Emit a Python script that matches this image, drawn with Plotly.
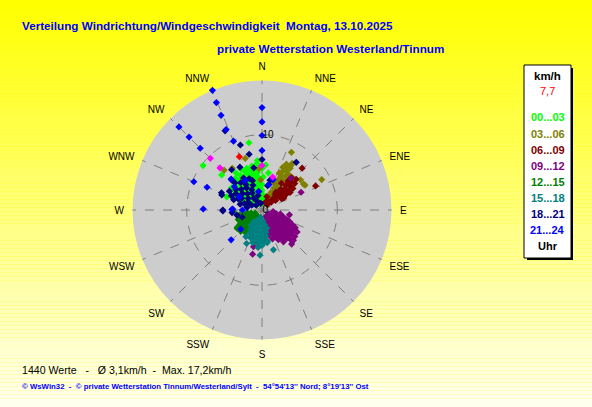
import plotly.graph_objects as go

W, H = 592, 407

# compass ticks
dir_ticks = [0, 22.5, 45, 67.5, 90, 112.5, 135, 157.5, 180, 202.5, 225, 247.5, 270, 292.5, 315, 337.5]
dir_labels = ["N", "NNE", "NE", "ENE", "E", "ESE", "SE", "SSE",
              "S", "SSW", "SW", "WSW", "W", "WNW", "NW", "NNW"]
speed_max = 17.2
speed_ticks = [0, 10]

hour_labels = ["00...03", "03...06", "06...09", "09...12", "12...15", "15...18", "18...21", "21...24"]
hour_colors = ["#00ff00", "#808000", "#800000", "#800080", "#008000", "#008080", "#000080", "#0000ff"]

# (direction deg, speed km/h)
h00_03 = [(325, 6.0), (333, 6.1), (340, 5.9), (347, 6.0), (354, 6.2),
          (320, 5.5), (328, 5.4), (336, 5.6), (344, 5.5), (352, 5.4), (0, 5.5),
          (306, 5.0), (315, 5.1), (322, 4.9), (330, 5.0), (338, 5.1), (346, 4.9), (353, 5.0),
          (305, 4.5), (312, 4.4), (320, 4.6), (328, 4.5), (336, 4.4), (344, 4.6), (352, 4.5), (2, 4.4),
          (300, 4.0), (308, 4.1), (316, 3.9), (324, 4.0), (332, 4.1), (340, 3.9), (348, 4.0), (356, 4.1),
          (298, 3.5), (306, 3.4), (315, 3.6), (324, 3.5), (333, 3.4), (342, 3.6), (351, 3.5), (0, 3.4),
          (295, 3.0), (305, 3.1), (315, 2.9), (325, 3.0), (335, 3.1), (345, 2.9), (355, 3.0),
          (300, 2.5), (312, 2.4), (324, 2.6), (336, 2.5), (348, 2.4), (0, 2.6),
          (290, 2.0), (305, 2.1), (320, 1.9), (335, 2.0), (350, 2.1), (5, 2.0),
          (300, 1.5), (320, 1.4), (340, 1.6), (0, 1.5), (310, 1.0), (340, 0.9), (10, 1.0),
          (349, 9.1), (354.5, 6.6), (307, 9.8), (311, 7.1), (290.5, 5.0), (298, 4.2), (4.7, 6.0), (9.8, 5.0)]
h03_06 = [(28, 1.0), (34, 1.5), (26, 1.8), (31, 2.1), (38, 2.4), (27, 2.6), (33, 2.9), (40, 3.1),
          (29, 3.3), (35, 3.6), (26, 3.9), (31, 4.1), (37, 4.3), (28, 4.6), (33, 4.8), (39, 5.0),
          (30, 5.2), (25, 5.4), (35, 5.5), (28, 5.8), (32, 6.1), (37, 5.9), (26, 6.3), (30, 6.5),
          (34, 6.7), (28, 6.9), (33, 7.1), (27, 8.6), (33, 7.4), (63, 8.9), (58, 6.5), (52, 6.5),
          (60, 6.6), (342, 7.2), (316.5, 7.3), (324.5, 6.8), (357.5, 4.0), (45, 3.0), (42, 5.9),
          (22, 4.0), (40, 2.0), (47, 4.0), (356, 5.5)]
h06_09 = [(20, 1.9), (25, 1.2), (45, 1.0), (40, 1.4), (50, 1.6), (44, 2.0), (55, 2.2), (47, 2.5),
          (40, 2.7), (52, 2.9), (60, 3.0), (45, 3.2), (50, 3.5), (42, 3.7), (57, 3.8), (47, 4.1),
          (53, 4.3), (44, 4.6), (58, 4.4), (49, 4.9), (42, 5.2), (46, 5.4), (43, 5.8), (51, 5.6),
          (48, 6.1), (61, 3.3), (38, 3.0), (43.8, 7.7), (65.8, 7.8), (36, 4.4), (55, 5.0)]
h09_12 = [(120, 1.0), (150, 1.0), (98, 1.5), (110, 1.5), (135, 1.5), (160, 1.5),
          (105, 2.0), (120, 2.0), (135, 2.0), (150, 2.0), (165, 2.0),
          (102, 2.5), (114, 2.5), (126, 2.5), (138, 2.5), (150, 2.5), (162, 2.5), (172, 2.6),
          (108, 3.0), (118, 3.0), (128, 3.0), (138, 3.0), (148, 3.0), (158, 3.0), (168, 3.0),
          (100, 3.7), (111, 3.6), (120, 3.5), (129, 3.5), (137, 3.5), (146, 3.5), (155, 3.5), (164, 3.5),
          (113, 4.0), (121, 4.0), (129, 4.0), (137, 4.0), (145, 4.0), (153, 4.0), (160, 4.1),
          (116, 4.5), (123, 4.5), (130, 4.5), (137, 4.5), (144, 4.5), (151, 4.5),
          (118, 5.0), (125, 5.0), (132, 5.0), (139, 5.0), (146, 5.1),
          (122, 5.5), (129, 5.6), (136, 5.4), (134, 5.8), (139, 6.0),
          (65.6, 5.7), (42, 5.7), (192, 6.0), (193, 5.0), (201, 3.8), (113, 2.85), (131, 4.4)]
h12_15 = [(215, 1.0), (245, 1.0), (205, 1.5), (230, 1.5), (255, 1.5),
          (200, 2.0), (215, 2.0), (230, 2.0), (245, 2.0), (260, 2.0),
          (205, 2.5), (218, 2.5), (231, 2.5), (244, 2.5), (257, 2.5),
          (210, 3.0), (222, 3.0), (234, 3.0), (246, 3.0), (258, 3.0),
          (215, 3.5), (226, 3.5), (237, 3.5), (248, 3.4), (225, 4.0), (235, 4.0),
          (233.4, 4.1), (268, 3.8), (218, 3.7), (252, 2.2), (240, 1.3)]
h15_18 = [(190, 1.0), (175, 1.5), (205, 1.5), (170, 2.0), (185, 2.0), (200, 2.0), (215, 2.0),
          (168, 2.5), (180, 2.5), (192, 2.5), (204, 2.5), (216, 2.5),
          (170, 3.0), (180, 3.0), (190, 3.0), (200, 3.0), (210, 3.0),
          (172, 3.5), (181, 3.5), (190, 3.5), (199, 3.5), (208, 3.5),
          (175, 4.0), (184, 4.0), (193, 4.0), (202, 4.0), (180, 4.5), (188, 4.5), (196, 4.5),
          (204.7, 4.9), (211, 4.15), (182.5, 6.0), (164, 5.5), (171, 4.4), (170, 4.2),
          (165.6, 2.5), (180, 4.7), (186, 5.0), (196, 1.8)]
h18_21 = [(300, 5.0), (315, 5.1), (330, 4.9), (295, 4.5), (308, 4.4), (322, 4.6), (338, 4.5),
          (290, 4.0), (302, 4.1), (315, 3.9), (328, 4.0), (342, 4.1),
          (295, 3.5), (310, 3.4), (325, 3.6), (340, 3.5), (285, 3.0), (300, 3.1), (318, 2.9), (333, 3.0),
          (290, 2.5), (310, 2.4), (330, 2.6), (350, 2.5), (280, 2.0), (300, 2.1), (325, 1.9), (345, 2.0),
          (295, 1.5), (330, 1.4), (310, 1.0), (350, 0.9), (258.6, 3.4), (250, 2.8), (265, 4.0),
          (335, 11.6), (341.6, 9.1), (347, 7.6), (323, 6.7), (332.7, 6.4), (293, 5.85), (290.4, 5.7),
          (314.7, 5.7), (270, 5.2), (268.5, 5.2), (35.7, 7.8), (0, 6.7), (349, 5.7), (13, 3.3), (15, 4.1)]
h21_24 = [(337.5, 17.2), (337, 15.5), (336.6, 13.7), (336, 11.7), (337.5, 9.9),
          (315, 15.6), (315, 13.7), (315, 11.6), (0, 13.6), (0, 11.7), (0, 9.9), (0, 7.9),
          (292.5, 9.8), (292.5, 7.9), (271, 7.8), (226, 5.7), (228, 3.8), (272, 3.9), (315, 5.8),
          (271, 4.0), (270, 2.6), (300, 3.5), (330, 4.5), (15, 3.5), (20, 4.3), (350, 2.5), (310, 4.8)]
extra_pts = [(315, 9.7), (315, 7.9), (0, 5.9), (18, 4.6)]
current_pt = [(337, 7.7)]
current_text = "7,7"

groups = [h00_03, h03_06, h06_09, h09_12, h12_15, h15_18, h18_21, h21_24]


def px(x):
    return x / W


def py(y):
    return 1 - y / H


font = "Liberation Sans, Arial, sans-serif"

fig = go.Figure()
for pts, name, col in zip(groups, hour_labels, hour_colors):
    fig.add_trace(go.Scatterpolar(
        theta=[p[0] for p in pts], r=[p[1] for p in pts], mode="markers", name=name,
        marker=dict(symbol="diamond", size=5.5, color=col, line_width=0)))
fig.add_trace(go.Scatterpolar(
    theta=[p[0] for p in extra_pts], r=[p[1] for p in extra_pts], mode="markers",
    marker=dict(symbol="diamond", size=5.5, color="#ff00ff", line_width=0)))
fig.add_trace(go.Scatterpolar(
    theta=[p[0] for p in current_pt], r=[p[1] for p in current_pt], mode="markers",
    marker=dict(symbol="diamond", size=5.5, color="#ff0000", line_width=0)))

# yellow gradient background
shapes = []
n_bands = 100
for i in range(n_bands):
    t = i / (n_bands - 1)
    shapes.append(dict(type="rect", xref="paper", yref="paper", x0=0, x1=1,
                       y0=1 - (i + 1) / n_bands, y1=1 - i / n_bands,
                       fillcolor="rgb(255,255,%d)" % int(240 * t), line_width=0, layer="below"))

# legend box with shadow
shapes.append(dict(type="rect", xref="paper", yref="paper", x0=px(527), x1=px(573),
                   y0=py(260), y1=py(68), fillcolor="black", line_width=0))
shapes.append(dict(type="rect", xref="paper", yref="paper", x0=px(524), x1=px(571),
                   y0=py(258), y1=py(65), fillcolor="white", line=dict(color="black", width=1)))

ann = []
ann.append(dict(text="<b>Verteilung Windrichtung/Windgeschwindigkeit  Montag, 13.10.2025</b>",
                x=px(20), y=py(25), xanchor="left", font=dict(size=11.7, color="#0000ff")))
ann.append(dict(text="<b>private Wetterstation Westerland/Tinnum</b>",
                x=px(215), y=py(49), xanchor="left", font=dict(size=11.7, color="#0000ff")))
ann.append(dict(text="1440 Werte   -   Ø 3,1km/h  -  Max. 17,2km/h",
                x=px(20), y=py(370), xanchor="left", font=dict(size=10.6, color="black")))
ann.append(dict(text="<b>© WsWin32  -  © private Wetterstation Tinnum/Westerland/Sylt  -  "
                     "54°54'13'' Nord; 8°19'13'' Ost</b>",
                x=px(20), y=py(386), xanchor="left", font=dict(size=7.8, color="#0000ff")))

ann.append(dict(text="<b>km/h</b>", x=px(547.5), y=py(76), xanchor="center",
                font=dict(size=11.5, color="black")))
ann.append(dict(text=current_text, x=px(547.5), y=py(91), xanchor="center",
                font=dict(size=11, color="#ff0000")))
leg_y = [117, 134, 149.5, 165.5, 181.5, 197.5, 214, 230]
for name, col, yy in zip(hour_labels, hour_colors, leg_y):
    ann.append(dict(text="<b>%s</b>" % name, x=px(547.5), y=py(yy), xanchor="center",
                    font=dict(size=11, color=col)))
ann.append(dict(text="<b>Uhr</b>", x=px(547.5), y=py(246), xanchor="center",
                font=dict(size=11, color="black")))

for a in ann:
    a.update(xref="paper", yref="paper", showarrow=False, yanchor="middle")

fig.update_layout(
    width=W, height=H, autosize=False,
    margin=dict(l=0, r=0, t=0, b=0),
    paper_bgcolor="#ffff00",
    showlegend=False,
    font=dict(family=font, color="black"),
    shapes=shapes,
    annotations=ann,
    polar=dict(
        domain=dict(x=[px(262 - 129.5), px(262 + 129.5)], y=[py(210 + 129.5), py(210 - 129.5)]),
        bgcolor="#cdcdcd",
        angularaxis=dict(direction="clockwise", rotation=90, tickmode="array",
                         tickvals=dir_ticks, ticktext=dir_labels, ticks="outside", ticklen=6,
                         tickcolor="rgba(0,0,0,0)",
                         showline=False, gridcolor="#7f7f7f", griddash="dash", gridwidth=1,
                         tickfont=dict(size=10, color="black")),
        radialaxis=dict(range=[0, speed_max], tickmode="array", tickvals=speed_ticks,
                        ticktext=[str(v) for v in speed_ticks], angle=90, side="clockwise",
                        tickangle=90, ticks="", showline=False,
                        gridcolor="#7f7f7f", griddash="dash", gridwidth=1,
                        tickfont=dict(size=10, color="black")),
    ),
)

fig.write_html("out.html", config={"displayModeBar": False},
               post_script="document.body.style.margin='0';")
